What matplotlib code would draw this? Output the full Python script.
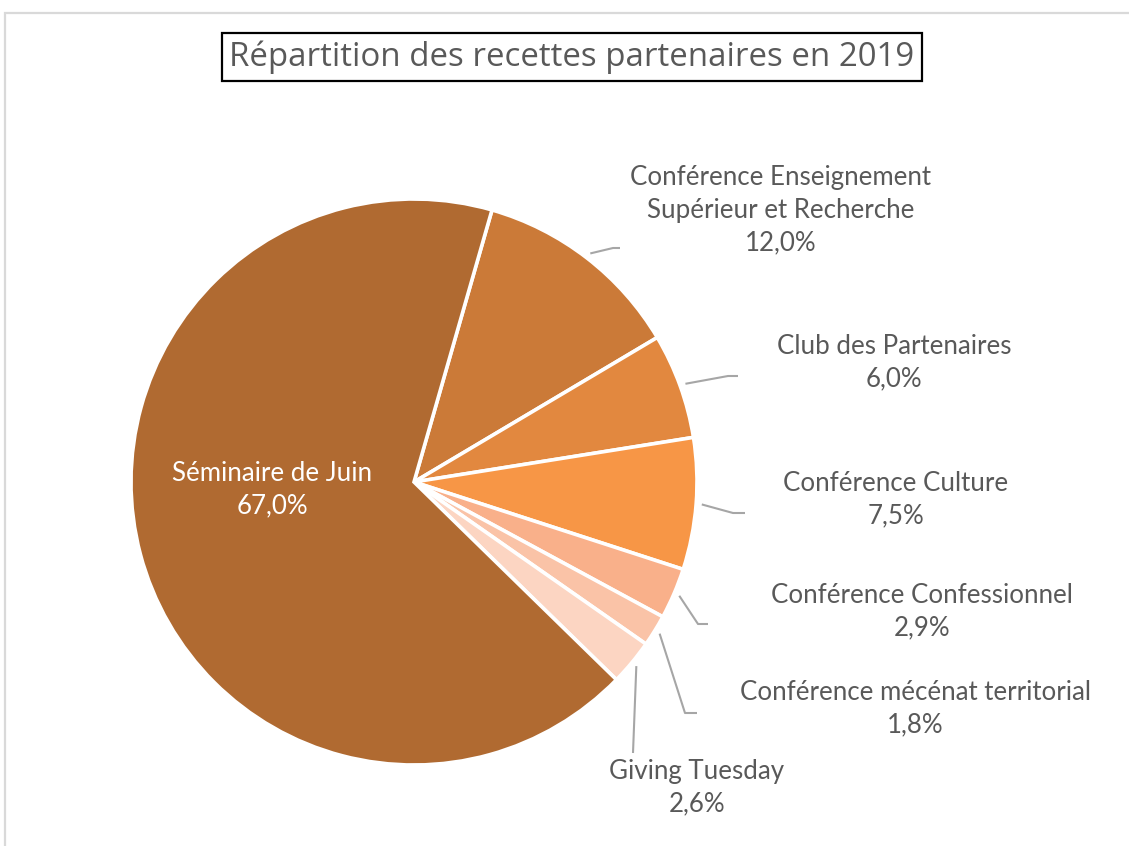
import matplotlib
matplotlib.use("Agg")
import matplotlib.pyplot as plt
import numpy as np
from matplotlib.patches import Rectangle

categories = ["Conférence Enseignement\nSupérieur et Recherche", "Club des Partenaires",
              "Conférence Culture", "Conférence Confessionnel",
              "Conférence mécénat territorial", "Giving Tuesday", "Séminaire de Juin"]
values = [12.0, 6.0, 7.5, 2.9, 1.8, 2.6, 67.0]
colors = ["#CB7A38", "#E2883F", "#F79646", "#F9B08A", "#FAC3A7", "#FCD5C2", "#B06A31"]
title = "Répartition des recettes partenaires en 2019"

W, H = 1129, 846
fig = plt.figure(figsize=(W / 100, H / 100), dpi=100)

# light grey chart border (cropped on right/bottom)
fig.patches.append(Rectangle((5 / W, -0.1), 1.2, (H - 13) / H + 0.1, transform=fig.transFigure,
                             fill=False, edgecolor="#D9D9D9", linewidth=1.6))

cx, cy, R = 414, 482, 283
ax = fig.add_axes([(cx - R) / W, (H - cy - R) / H, 2 * R / W, 2 * R / H])

wedges, _ = ax.pie(values, colors=colors, startangle=90 - 16.0, counterclock=False,
                   radius=1, wedgeprops=dict(edgecolor="white", linewidth=2.6))
ax.set_xlim(-1, 1)
ax.set_ylim(-1, 1)
ax.set_aspect("equal")
ax.axis("off")

def p(px, py):
    return (px - cx) / R, (cy - py) / R

# label layout: (label centre px, py), elbow (px, py), end (px, py)
layout = [
    ((781, 210), (613, 248), (620, 248)),
    ((894, 363), (728, 376), (738, 376)),
    ((896, 500), (733, 513), (745, 513)),
    ((922, 612), (698, 624), (708, 624)),
    ((915, 709), (685, 713), (697, 713)),
    ((697, 788), (633, 753), (633, 753)),
]
font = "Lato"
txtc = "#595959"
fs = 18.6
ls = 1.37
for i, w in enumerate(wedges):
    lab = categories[i]
    pct = f"{values[i]:.1f}%".replace(".", ",")
    if i == 6:
        x, y = p(272, 490)
        ax.text(x, y, f"{lab}\n{pct}", ha="center", va="center", color="white",
                fontsize=fs, family=font, linespacing=ls)
        continue
    (lx, ly), el, en = layout[i]
    ang = np.deg2rad((w.theta1 + w.theta2) / 2)
    sx, sy = 1.02 * np.cos(ang), 1.02 * np.sin(ang)
    ex, ey = p(*el)
    fx, fy = p(*en)
    ax.plot([sx, ex, fx], [sy, ey, fy], color="#A6A6A6", linewidth=1.5, clip_on=False,
            solid_capstyle="butt")
    x, y = p(lx, ly)
    ax.text(x, y, f"{lab}\n{pct}", ha="center", va="center", color=txtc,
            fontsize=fs, family=font, linespacing=ls)

fig.text(572 / W, 1 - 57 / H, title, ha="center", va="center", fontsize=23.8,
         family="Open Sans", color="#595959",
         bbox=dict(boxstyle="square,pad=0.22", facecolor="white", edgecolor="black", linewidth=1.6))

fig.savefig("out.png", dpi=100)
